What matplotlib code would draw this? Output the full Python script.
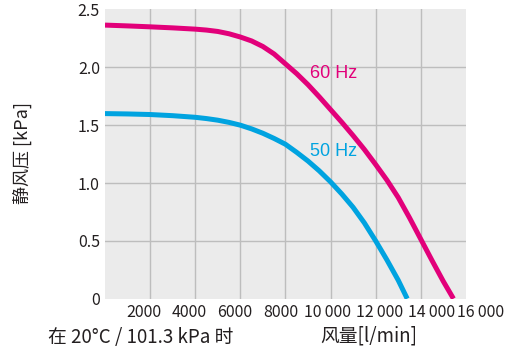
import matplotlib
matplotlib.use("Agg")
import matplotlib.pyplot as plt
from matplotlib.transforms import ScaledTranslation

plt.rcParams["font.family"] = ["Noto Sans CJK SC", "DejaVu Sans"]

# flow [l/min] vs static pressure [kPa]
flow_60 = [0, 1000, 2000, 3000, 4000, 4500, 5000, 5500, 6000, 6500, 7000, 7500, 8000, 8500,
           9000, 9500, 10000, 10500, 11000, 11500, 12000, 12500, 13000, 13500, 14000, 14500,
           15000, 15450]
pres_60 = [2.365, 2.358, 2.35, 2.341, 2.33, 2.322, 2.31, 2.29, 2.262, 2.228, 2.18, 2.115, 2.03,
           1.945, 1.85, 1.745, 1.635, 1.525, 1.41, 1.29, 1.16, 1.025, 0.875, 0.70, 0.515,
           0.33, 0.15, 0.0]

flow_50 = [0, 1000, 2000, 3000, 4000, 4500, 5000, 5500, 6000, 6500, 7000, 7500, 8000, 8500,
           9000, 9500, 10000, 10500, 11000, 11500, 12000, 12500, 13000, 13400]
pres_50 = [1.60, 1.597, 1.592, 1.582, 1.568, 1.557, 1.543, 1.524, 1.50, 1.468, 1.43, 1.385,
           1.335, 1.265, 1.19, 1.105, 1.01, 0.905, 0.79, 0.655, 0.50, 0.335, 0.16, 0.0]

x_ticks = [2000, 4000, 6000, 8000, 10000, 12000, 14000, 16000]
x_labels = ["2000", "4000", "6000", "8000", "10\u2009000", "12\u2009000", "14\u2009000", "16\u2009000"]
y_ticks = [0, 0.5, 1.0, 1.5, 2.0, 2.5]
y_labels = ["0", "0.5", "1.0", "1.5", "2.0", "2.5"]

MAGENTA = "#E2007A"
CYAN = "#00A3E0"
TEXT = "#231F20"

fig = plt.figure(figsize=(5.2, 3.51), dpi=100)
ax = fig.add_axes([0.2019, 0.149, 0.694, 0.824])
ax.set_facecolor("#EBEBEB")

for fl, pr, c in [(flow_60, pres_60, MAGENTA), (flow_50, pres_50, CYAN)]:
    ax.plot(fl, pr, color=c, lw=3.6, solid_capstyle="butt",
            solid_joinstyle="round", zorder=3)

ax.set_xlim(0, 16000)
ax.set_ylim(0, 2.5)
ax.set_xticks(x_ticks)
ax.set_xticklabels(x_labels)
ax.set_yticks(y_ticks)
ax.set_yticklabels(y_labels)
ax.tick_params(length=0, labelsize=11.5, colors=TEXT)
ax.tick_params(axis="y", pad=3.6)
ax.tick_params(axis="x", pad=4)

# the original label row is not centred on its ticks, nudge each label (px)
label_shift = [-6, -6, -6, -5, -3, 4, 11, 15]
for lab, dx in zip(ax.get_xticklabels(), label_shift):
    lab.set_transform(lab.get_transform() + ScaledTranslation(dx / 100, 0, fig.dpi_scale_trans))

for x in x_ticks[:-1]:
    ax.axvline(x, color="#BDBDBD", lw=1, zorder=1)
for y in y_ticks[1:-1]:
    ax.axhline(y, color="#BDBDBD", lw=1, zorder=1)

for s in ax.spines.values():
    s.set_visible(False)

ax.text(9100, 1.948, "60 Hz", color=MAGENTA, fontsize=13, family="Liberation Sans",
        va="center", ha="left")
ax.text(9100, 1.276, "50 Hz", color=CYAN, fontsize=13, family="Liberation Sans",
        va="center", ha="left")

fig.text(22 / 520, 1 - 153 / 351, "静风压 [kPa]", rotation=90, fontsize=13,
         ha="center", va="center", color=TEXT)
fig.text(48 / 520, 1 - 337 / 351, "在 20°C / 101.3 kPa 时", fontsize=13.5,
         ha="left", va="center", color=TEXT)
fig.text(320 / 520, 1 - 336 / 351, "风量[l/min]", fontsize=13.5,
         ha="left", va="center", color=TEXT)

fig.savefig("out.png", dpi=100)
